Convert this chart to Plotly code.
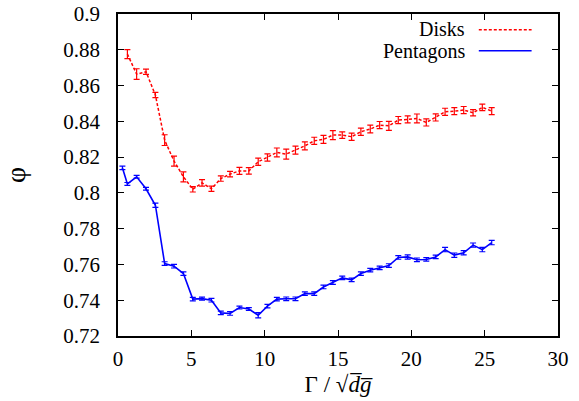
import plotly.graph_objects as go

disks_x = [0.64, 1.27, 1.91, 2.55, 3.18, 3.82, 4.46, 5.10, 5.73, 6.37,
           7.01, 7.64, 8.28, 8.92, 9.56, 10.19, 10.83, 11.47, 12.10, 12.74,
           13.38, 14.01, 14.65, 15.29, 15.93, 16.56, 17.20, 17.84, 18.47, 19.11,
           19.75, 20.38, 21.02, 21.66, 22.30, 22.93, 23.57, 24.21, 24.84, 25.48]
disks_y = [0.8776, 0.8664, 0.8677, 0.8547, 0.8295, 0.8178, 0.8090, 0.8020, 0.8056, 0.8023,
           0.8080, 0.8105, 0.8123, 0.8123, 0.8174, 0.8198, 0.8226, 0.8217, 0.8239, 0.8263,
           0.8291, 0.8299, 0.8323, 0.8323, 0.8314, 0.8342, 0.8357, 0.8379, 0.8375, 0.8407,
           0.8411, 0.8416, 0.8394, 0.8422, 0.8453, 0.8457, 0.8463, 0.8448, 0.8478, 0.8457]
disks_err = [0.0025, 0.0030, 0.0015, 0.0015, 0.0030, 0.0028, 0.0028, 0.0015, 0.0018, 0.0015,
             0.0015, 0.0015, 0.0020, 0.0018, 0.0020, 0.0020, 0.0025, 0.0028, 0.0022, 0.0022,
             0.0020, 0.0022, 0.0025, 0.0018, 0.0020, 0.0020, 0.0022, 0.0020, 0.0025, 0.0020,
             0.0020, 0.0025, 0.0020, 0.0020, 0.0020, 0.0020, 0.0020, 0.0018, 0.0018, 0.0020]

pent_x = [0.30, 0.64, 1.27, 1.91, 2.55, 3.18, 3.82, 4.46, 5.10, 5.73, 6.37,
          7.01, 7.64, 8.28, 8.92, 9.56, 10.19, 10.83, 11.47, 12.10, 12.74,
          13.38, 14.01, 14.65, 15.29, 15.93, 16.56, 17.20, 17.84, 18.47, 19.11,
          19.75, 20.38, 21.02, 21.66, 22.30, 22.93, 23.57, 24.21, 24.84, 25.48]
pent_y = [0.8140, 0.8050, 0.8090, 0.8023, 0.7931, 0.7605, 0.7590, 0.7549, 0.7406, 0.7409, 0.7400,
          0.7329, 0.7326, 0.7359, 0.7351, 0.7316, 0.7367, 0.7406, 0.7408, 0.7408, 0.7437,
          0.7437, 0.7474, 0.7499, 0.7525, 0.7514, 0.7549, 0.7568, 0.7581, 0.7594, 0.7639,
          0.7642, 0.7626, 0.7628, 0.7642, 0.7683, 0.7652, 0.7665, 0.7708, 0.7683, 0.7722]
pent_err = [0.0010, 0.0008, 0.0008, 0.0008, 0.0012, 0.0010, 0.0010, 0.0010, 0.0010, 0.0008, 0.0010,
            0.0010, 0.0010, 0.0008, 0.0008, 0.0015, 0.0010, 0.0010, 0.0010, 0.0010, 0.0010,
            0.0010, 0.0010, 0.0010, 0.0010, 0.0010, 0.0010, 0.0010, 0.0010, 0.0010, 0.0010,
            0.0012, 0.0010, 0.0010, 0.0010, 0.0012, 0.0012, 0.0012, 0.0012, 0.0012, 0.0012]

x_ticks = [0, 5, 10, 15, 20, 25, 30]
y_ticks = [0.72, 0.74, 0.76, 0.78, 0.8, 0.82, 0.84, 0.86, 0.88, 0.9]
y_tick_text = ["0.72", "0.74", "0.76", "0.78", "0.8", "0.82", "0.84", "0.86", "0.88", "0.9"]

FONT = "Liberation Serif"
RED = "#ff0000"
BLUE = "#0000ff"

fig = go.Figure()
fig.add_trace(go.Scatter(
    x=disks_x, y=disks_y, mode="lines", name="Disks",
    line=dict(color=RED, width=1.5, dash="3px,2px"),
    error_y=dict(type="data", array=disks_err, color=RED, thickness=1.2, width=3),
))
fig.add_trace(go.Scatter(
    x=pent_x, y=pent_y, mode="lines", name="Pentagons",
    line=dict(color=BLUE, width=1.6),
    error_y=dict(type="data", array=pent_err, color=BLUE, thickness=1.2, width=3),
))

# legend drawn gnuplot-style: text right-aligned, sample line on the right
fig.add_annotation(xref="paper", yref="paper", x=0.792, y=0.953, text="Disks",
                   showarrow=False, xanchor="right", yanchor="middle", borderpad=0,
                   font=dict(family=FONT, size=20, color="black"))
fig.add_annotation(xref="paper", yref="paper", x=0.792, y=0.884, text="Pentagons",
                   showarrow=False, xanchor="right", yanchor="middle", borderpad=0,
                   font=dict(family=FONT, size=20, color="black"))
fig.add_shape(type="line", xref="paper", yref="paper", x0=0.82, x1=0.94, y0=0.951, y1=0.951,
              line=dict(color=RED, width=1.5, dash="3px,2px"))
fig.add_shape(type="line", xref="paper", yref="paper", x0=0.82, x1=0.94, y0=0.886, y1=0.886,
              line=dict(color=BLUE, width=1.6))

fig.update_layout(
    width=579, height=401,
    margin=dict(l=118, r=21, t=14, b=65, autoexpand=False),
    paper_bgcolor="white", plot_bgcolor="white",
    showlegend=False,
    font=dict(family=FONT, size=21, color="black"),
    xaxis=dict(
        range=[0, 30], tickvals=x_ticks, ticks="inside", ticklen=6, tickwidth=1,
        tickcolor="black", showline=True, linecolor="black", linewidth=1.5, mirror="ticks",
        showgrid=False, zeroline=False, ticklabelstandoff=3, automargin=False,
        tickfont=dict(family=FONT, size=21),
        title=dict(text="Γ / √<i>d\u0305g\u0305</i>",
                   font=dict(family=FONT, size=23), standoff=6),
    ),
    yaxis=dict(
        range=[0.72, 0.9], tickvals=y_ticks, ticktext=y_tick_text, ticks="inside", ticklen=6,
        tickwidth=1, tickcolor="black", showline=True, linecolor="black", linewidth=1.5,
        mirror="ticks", showgrid=False, zeroline=False, ticklabelstandoff=12, automargin=False,
        tickfont=dict(family=FONT, size=21),
        title=dict(text="φ", font=dict(family=FONT, size=28), standoff=30),
    ),
)

fig.write_html("out.html")
